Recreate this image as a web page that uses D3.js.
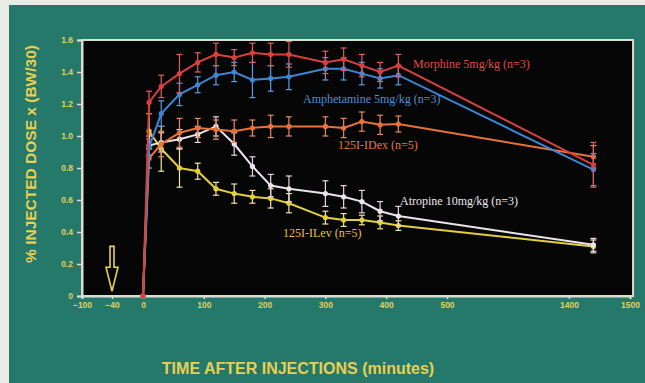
<!DOCTYPE html>
<html>
<head>
<meta charset="utf-8">
<script src="https://cdn.jsdelivr.net/npm/d3@7"></script>
<style>
  html, body { margin: 0; padding: 0; background: #24796a; }
  svg { display: block; }
</style>
</head>
<body>
<div id="chart"></div>
<script>
// sampling times (minutes after injection)
const times = [0, 10, 30, 60, 90, 120, 150, 180, 210, 240, 300, 330, 360, 390, 420, 1440];

const morphine    = [0, 1.21, 1.31, 1.39, 1.46, 1.51, 1.49, 1.52, 1.51, 1.51, 1.46, 1.48, 1.44, 1.40, 1.44, 0.82];
const morphineErr = [0, 0.07, 0.07, 0.12, 0.06, 0.07, 0.05, 0.06, 0.07, 0.08, 0.07, 0.07, 0.07, 0.06, 0.07, 0.14];

const amphetamine    = [0, 0.93, 1.14, 1.26, 1.32, 1.38, 1.40, 1.35, 1.36, 1.37, 1.42, 1.42, 1.39, 1.36, 1.38, 0.79];
const amphetamineErr = [0, 0.05, 0.08, 0.07, 0.05, 0.06, 0.06, 0.11, 0.08, 0.08, 0.07, 0.07, 0.07, 0.06, 0.06, 0.10];

const idex    = [0, 0.86, 0.95, 1.02, 1.05, 1.04, 1.03, 1.05, 1.06, 1.06, 1.06, 1.05, 1.09, 1.07, 1.075, 0.87];
const idexErr = [0, 0.06, 0.08, 0.09, 0.06, 0.06, 0.07, 0.05, 0.07, 0.06, 0.06, 0.06, 0.06, 0.06, 0.05, 0.07];

const atropine    = [0, 0.94, 0.96, 0.98, 1.01, 1.06, 0.95, 0.81, 0.69, 0.67, 0.64, 0.62, 0.59, 0.53, 0.50, 0.32];
const atropineErr = [0, 0.06, 0.06, 0.06, 0.05, 0.06, 0.07, 0.06, 0.07, 0.08, 0.08, 0.07, 0.07, 0.06, 0.06, 0.04];

const ilev    = [0, 1.03, 0.92, 0.80, 0.78, 0.67, 0.64, 0.62, 0.61, 0.58, 0.49, 0.475, 0.475, 0.46, 0.44, 0.31];
const ilevErr = [0, 0.11, 0.14, 0.12, 0.05, 0.04, 0.06, 0.04, 0.06, 0.06, 0.04, 0.04, 0.03, 0.04, 0.03, 0.04];

// axis ticks
const xTicks = [-100, -40, 0, 100, 200, 300, 400, 500, 1400, 1500];
const yTicks = [0, 0.2, 0.4, 0.6, 0.8, 1.0, 1.2, 1.4, 1.6];

const width = 645;
const height = 383;

const svg = d3.select('#chart').append('svg')
  .attr('width', width)
  .attr('height', height);

// photo edges
svg.append('rect').attr('x', 0).attr('y', 0).attr('width', width).attr('height', height).attr('fill', '#24796a');
svg.append('rect').attr('x', 0).attr('y', 0).attr('width', width).attr('height', 5).attr('fill', '#e9ece6');
svg.append('rect').attr('x', 0).attr('y', 0).attr('width', 9).attr('height', height).attr('fill', '#e9ece6');

// broken time axis: -100..500 is linear, then jumps to 1400..1500
const xScale = d3.scaleLinear()
  .domain([-100, -40, 0, 500, 1400, 1500])
  .range([82, 112, 143, 447, 569, 630]);

const yScale = d3.scaleLinear()
  .domain([0, 1.6])
  .range([296, 40]);

const axisColor = '#e6cf5a';
const frameColor = '#dcdcd2';

// plot background
svg.append('rect')
  .attr('x', xScale(-100))
  .attr('y', yScale(1.6))
  .attr('width', xScale(1505) - xScale(-100))
  .attr('height', yScale(0) - yScale(1.6))
  .attr('fill', '#060606')
  .attr('stroke', frameColor)
  .attr('stroke-width', 2);

// axes
const xAxis = d3.axisBottom(xScale)
  .tickValues(xTicks)
  .tickSize(3)
  .tickPadding(3)
  .tickFormat(d3.format('d'));

const yAxis = d3.axisLeft(yScale)
  .tickValues(yTicks)
  .tickSize(5)
  .tickPadding(4)
  .tickFormat((d) => d === 0 ? '0' : d.toFixed(1));

const gx = svg.append('g')
  .attr('transform', 'translate(0,' + yScale(0) + ')')
  .call(xAxis);

const gy = svg.append('g')
  .attr('transform', 'translate(' + xScale(-100) + ',0)')
  .call(yAxis);

[gx, gy].forEach((g) => {
  g.select('.domain').attr('stroke', frameColor).attr('stroke-width', 2);
  g.selectAll('.tick line').attr('stroke', frameColor).attr('stroke-width', 1.5);
  g.selectAll('.tick text')
    .attr('fill', axisColor)
    .style('font-family', 'Liberation Sans, Arial, sans-serif')
    .style('font-weight', 'bold')
    .style('font-size', '8.5px');
});

// injection arrow at -40 min
const ax = xScale(-40);
svg.append('path')
  .attr('d', 'M' + (ax - 2) + ',' + yScale(0.31) +
    ' L' + (ax - 2) + ',' + yScale(0.18) +
    ' L' + (ax - 6) + ',' + yScale(0.18) +
    ' L' + ax + ',' + yScale(0.03) +
    ' L' + (ax + 6) + ',' + yScale(0.18) +
    ' L' + (ax + 2) + ',' + yScale(0.18) +
    ' L' + (ax + 2) + ',' + yScale(0.31) + ' Z')
  .attr('fill', 'none')
  .attr('stroke', '#e8d050')
  .attr('stroke-width', 1.6);

// series
const seriesList = [
  { values: ilev, errors: ilevErr, line: '#e2d03c', bar: '#f0e6a0' },
  { values: atropine, errors: atropineErr, line: '#ece4ec', bar: '#e8d6e0' },
  { values: idex, errors: idexErr, line: '#e8733a', bar: '#e88a60' },
  { values: amphetamine, errors: amphetamineErr, line: '#3d86d6', bar: '#5d9ae0' },
  { values: morphine, errors: morphineErr, line: '#d8403e', bar: '#e06060' }
];

const line = d3.line()
  .x((d) => xScale(d.t))
  .y((d) => yScale(d.v));

seriesList.forEach((s) => {
  const pts = times.map((t, i) => ({ t: t, v: s.values[i], e: s.errors[i] }));
  const g = svg.append('g');

  // error bars
  pts.filter((d) => d.e > 0).forEach((d) => {
    const px = xScale(d.t);
    g.append('line')
      .attr('x1', px).attr('x2', px)
      .attr('y1', yScale(d.v - d.e)).attr('y2', yScale(d.v + d.e))
      .attr('stroke', s.bar).attr('stroke-width', 1.2);
    [d.v - d.e, d.v + d.e].forEach((v) => {
      g.append('line')
        .attr('x1', px - 3).attr('x2', px + 3)
        .attr('y1', yScale(v)).attr('y2', yScale(v))
        .attr('stroke', s.bar).attr('stroke-width', 1.2);
    });
  });

  g.append('path')
    .attr('d', line(pts))
    .attr('fill', 'none')
    .attr('stroke', s.line)
    .attr('stroke-width', 2);

  g.selectAll('circle')
    .data(pts)
    .enter().append('circle')
      .attr('cx', (d) => xScale(d.t))
      .attr('cy', (d) => yScale(d.v))
      .attr('r', 2.6)
      .attr('fill', s.line);
});

// series labels
const labelFont = 'Liberation Serif, Times New Roman, serif';
const labels = [
  { text: 'Morphine 5mg/kg (n=3)', x: 413, y: 68, color: '#e04a44' },
  { text: 'Amphetamine 5mg/kg (n=3)', x: 303, y: 103, color: '#4a8fdc' },
  { text: '125I-IDex (n=5)', x: 338, y: 149, color: '#e8763e' },
  { text: 'Atropine 10mg/kg (n=3)', x: 400, y: 205, color: '#eee6ee' },
  { text: '125I-ILev (n=5)', x: 283, y: 237, color: '#e8c040' }
];

labels.forEach((l) => {
  svg.append('text')
    .attr('x', l.x)
    .attr('y', l.y)
    .attr('fill', l.color)
    .style('font-family', labelFont)
    .style('font-size', '12px')
    .text(l.text);
});

// axis titles
svg.append('text')
  .attr('transform', 'translate(36,154) rotate(-90)')
  .attr('text-anchor', 'middle')
  .attr('fill', '#e8cf52')
  .style('font-family', 'Liberation Sans, Arial, sans-serif')
  .style('font-weight', 'bold')
  .style('font-size', '15.5px')
  .text('% INJECTED DOSE x (BW/30)');

svg.append('text')
  .attr('x', 298)
  .attr('y', 374)
  .attr('text-anchor', 'middle')
  .attr('fill', '#e8cf52')
  .style('font-family', 'Liberation Sans, Arial, sans-serif')
  .style('font-weight', 'bold')
  .style('font-size', '16px')
  .text('TIME AFTER INJECTIONS (minutes)');
</script>
</body>
</html>
